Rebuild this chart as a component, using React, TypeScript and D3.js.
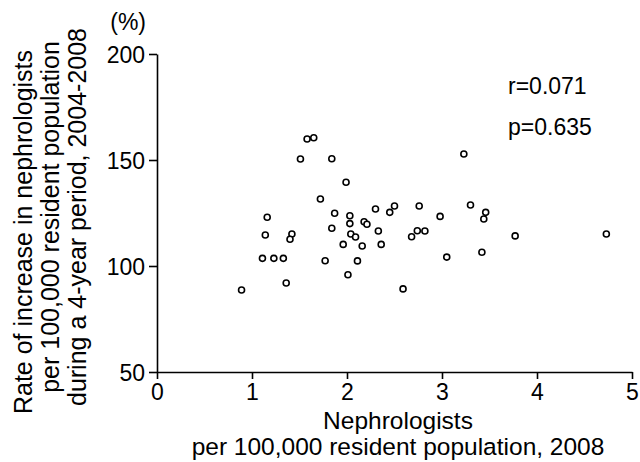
import { useRef, useEffect } from "react";
import * as d3 from "d3";

// nephrologists per 100,000 (2008) and rate of increase 2004-2008 (%)
const perCapita = [
  0.89, 1.11, 1.23, 1.33, 1.14, 1.16, 1.42, 1.4, 1.36, 1.51, 1.58, 1.65,
  1.72, 1.77, 1.84, 1.99, 1.87, 1.84, 2.03, 2.03, 2.04, 2.09, 1.96, 2.01,
  2.11, 2.16, 2.18, 2.21, 2.3, 2.33, 2.36, 2.45, 2.5, 2.76, 2.68, 2.74,
  2.82, 2.98, 3.05, 3.23, 3.3, 3.42, 3.46, 3.44, 3.77, 4.73, 2.59,
];
const increase = [
  88.7, 103.6, 103.6, 103.6, 114.6, 123, 115.1, 112.6, 92, 150.5, 159.9, 160.5,
  131.6, 102.5, 150.6, 139.5, 124.9, 117.8, 123.7, 120, 115.1, 113.7, 110.2, 95.9,
  102.4, 109.4, 120.9, 119.7, 126.9, 116.5, 110.2, 125.3, 128.3, 128.3, 113.8, 116.6,
  116.5, 123.4, 104.2, 152.8, 128.8, 106.5, 125.3, 122.2, 114.2, 115.1, 89.2,
];
const xTicks = [0, 1, 2, 3, 4, 5];
const yTicks = [50, 100, 150, 200];
const yTitle = [
  "Rate of increase in nephrologists",
  "per 100,000 resident population",
  "during a 4-year period, 2004-2008",
];
const xTitle = ["Nephrologists", "per 100,000 resident population, 2008"];
const stats = ["r=0.071", "p=0.635"];

const FONT = "'Liberation Sans', Arial, sans-serif";

export default function App() {
  const ref = useRef<SVGSVGElement>(null);

  useEffect(() => {
    const svg = d3.select(ref.current);
    svg.selectAll("*").remove();

    const x = d3.scaleLinear().domain([0, 5]).range([157, 632]);
    const y = d3.scaleLinear().domain([50, 200]).range([372, 54]);

    const xAxis = svg
      .append("g")
      .attr("transform", `translate(0,${y(50)})`)
      .call(
        d3.axisBottom(x).tickValues(xTicks).tickFormat(d3.format("d"))
          .tickSize(7).tickSizeOuter(0).tickPadding(5)
      );
    const yAxis = svg
      .append("g")
      .attr("transform", `translate(${x(0)},0)`)
      .call(
        d3.axisLeft(y).tickValues(yTicks).tickFormat(d3.format("d"))
          .tickSize(8).tickSizeOuter(0).tickPadding(4)
      );

    [xAxis, yAxis].forEach((g) => {
      g.select(".domain").attr("stroke", "#000").attr("stroke-width", 1.6);
      g.selectAll(".tick line").attr("stroke", "#000").attr("stroke-width", 1.6);
      g.selectAll(".tick text")
        .attr("fill", "#000")
        .style("font-family", FONT)
        .style("font-size", "23px");
    });
    yAxis.selectAll(".tick text").attr("dy", "0.36em");

    svg
      .append("text")
      .attr("x", 146)
      .attr("y", 30)
      .attr("text-anchor", "end")
      .style("font-family", FONT)
      .style("font-size", "23px")
      .text("(%)");

    svg
      .append("g")
      .selectAll("circle")
      .data(perCapita.map((v, i) => [v, increase[i]]))
      .enter()
      .append("circle")
      .attr("cx", (d) => x(d[0]))
      .attr("cy", (d) => y(d[1]))
      .attr("r", 3)
      .attr("fill", "#fff")
      .attr("stroke", "#000")
      .attr("stroke-width", 1.6);

    svg
      .append("g")
      .selectAll("text")
      .data(yTitle)
      .enter()
      .append("text")
      .attr("transform", (d, i) => `translate(${32 + i * 27},${i === 0 ? 232 : 217}) rotate(-90)`)
      .attr("text-anchor", "middle")
      .style("font-family", FONT)
      .style("font-size", "25px")
      .text((d) => d);

    svg
      .append("g")
      .selectAll("text")
      .data(xTitle)
      .enter()
      .append("text")
      .attr("x", 398)
      .attr("y", (d, i) => 429 + i * 26)
      .attr("text-anchor", "middle")
      .style("font-family", FONT)
      .style("font-size", "24.5px")
      .text((d) => d);

    svg
      .append("g")
      .selectAll("text")
      .data(stats)
      .enter()
      .append("text")
      .attr("x", 508)
      .attr("y", (d, i) => 94 + i * 41)
      .style("font-family", FONT)
      .style("font-size", "23px")
      .text((d) => d);
  }, []);

  return (
    <svg
      ref={ref}
      width={640}
      height={462}
      style={{ position: "absolute", left: 0, top: 0, background: "#fff" }}
    />
  );
}
